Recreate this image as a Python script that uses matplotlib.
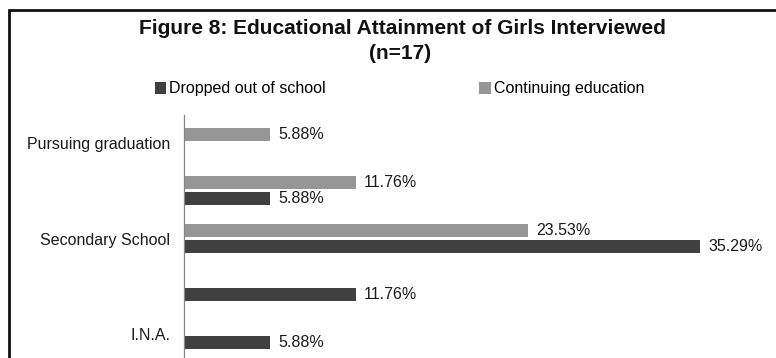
import numpy as np
import matplotlib
matplotlib.use("Agg")
import matplotlib.pyplot as plt
from matplotlib.patches import Patch, Rectangle

plt.rcParams['font.family'] = ['Liberation Sans', 'DejaVu Sans']

# data (percent of girls interviewed, n=17); None = no bar
categories = ["Pursuing graduation", "Higher Secondary", "Secondary School",
              "Primary School", "I.N.A."]
dropped = [None, 5.88, 35.29, 11.76, 5.88]
continuing = [5.88, 11.76, 23.53, None, None]
series_names = ["Dropped out of school", "Continuing education"]

dark = "#404040"
light = "#969696"

W, H = 776, 358
fig = plt.figure(figsize=(W / 100, H / 100), dpi=100)

# axes placed in pixel terms; bottom runs past the figure edge (chart is cropped)
ax_left, ax_top = 184, 115
ax_w, ax_h = 585, 252
ax = fig.add_axes([ax_left / W, 1 - (ax_top + ax_h) / H, ax_w / W, ax_h / H])

y = np.arange(len(categories))
bh = 13 / 48
off = 8 / 48

for vals, dy, col in [(continuing, -off, light), (dropped, off, dark)]:
    for i, v in enumerate(vals):
        if v is None:
            continue
        ax.barh(y[i] + dy, v, height=bh, color=col, edgecolor='none')
        ax.annotate(f"{v:.2f}%", (v, y[i] + dy), xytext=(8 * 0.72, 0),
                    textcoords='offset points', va='center', ha='left',
                    fontsize=11.5, color='#1a1a1a')

top = -(142.5 - ax_top) / 48
ax.set_xlim(0, 40)
ax.set_ylim(top + ax_h / 48, top)
ax.set_yticks(y)
ax.set_yticklabels([c if i % 2 == 0 else "" for i, c in enumerate(categories)],
                   fontsize=11.5, color='#1a1a1a')
ax.tick_params(axis='y', length=0, pad=10)
ax.set_xticks([])
for s in ['top', 'right', 'bottom']:
    ax.spines[s].set_visible(False)
ax.spines['left'].set_color('#868686')
ax.spines['left'].set_linewidth(0.9)

# title
fig.text(402 / W, 1 - 34 / H, "Figure 8: Educational Attainment of Girls Interviewed",
         ha='center', va='baseline', fontsize=15, fontweight='bold', color='#111111')
fig.text(400 / W, 1 - 59 / H, "(n=17)",
         ha='center', va='baseline', fontsize=15, fontweight='bold', color='#111111')

# legend
handles = [Patch(facecolor=dark), Patch(facecolor=light)]
fig.legend(handles, series_names, loc='center left', ncol=2,
           bbox_to_anchor=(155 / W, 1 - 89 / H), frameon=False,
           fontsize=11.5, handlelength=0.7, handleheight=0.7,
           handletextpad=0.2, columnspacing=9.6, borderpad=0, borderaxespad=0)

# outer frame (cropped at right and bottom)
fig.patches.append(Rectangle((9 / W, -0.2), 1.2, 1.2 - 9.5 / H,
                             transform=fig.transFigure, fill=False,
                             edgecolor='#111111', linewidth=2.0, clip_on=False))

fig.savefig("out.png", dpi=100)
